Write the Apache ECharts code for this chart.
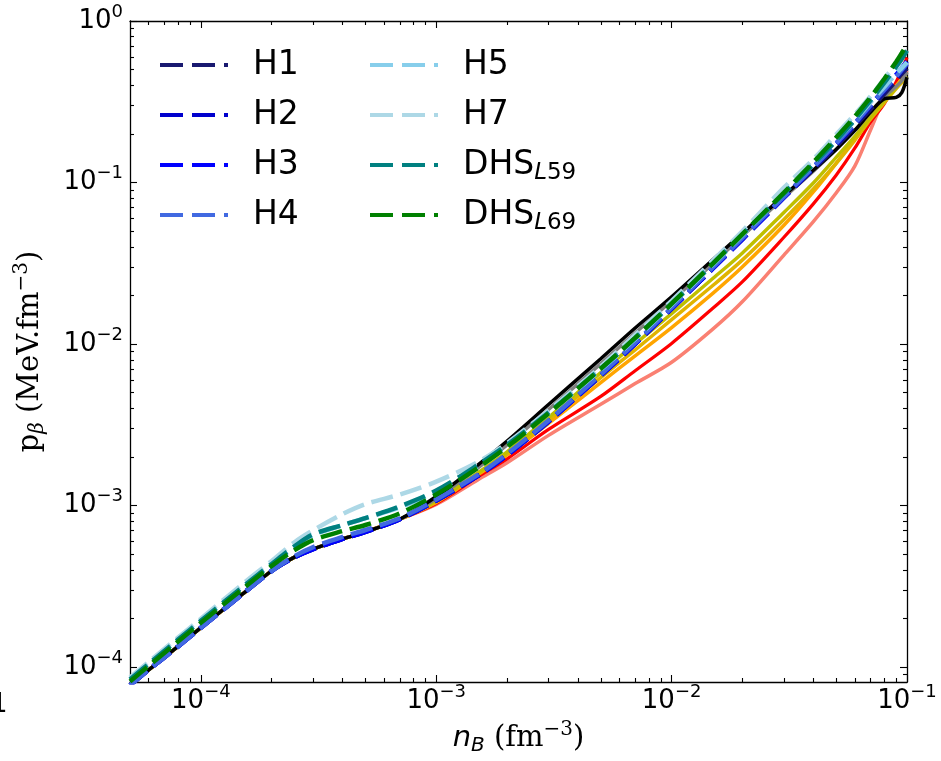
<!DOCTYPE html>
<html><head><meta charset="utf-8">
<script src="https://cdn.jsdelivr.net/npm/echarts@6/dist/echarts.min.js"></script>
<style>html,body{margin:0;padding:0;background:#fff}#c{width:941px;height:761px}</style>
</head><body><div id="c"></div>
<script>
// baryon density grid (fm^-3)
const nB = [5e-5,6e-5,8e-5,1e-4,1.5e-4,2e-4,2.5e-4,3e-4,4e-4,5e-4,7e-4,1e-3,1.5e-3,2e-3,3e-3,5e-3,7e-3,1e-2,1.5e-2,2e-2,3e-2,4e-2,5e-2,6e-2,7e-2,8e-2,9e-2,9.5e-2,0.1];

// dashed models (pressure, MeV fm^-3)
const pH1 = [7.72e-5,9.63e-5,1.344e-4,1.756e-4,2.83e-4,3.95e-4,4.80e-4,5.39e-4,6.22e-4,6.88e-4,8.24e-4,1.077e-3,1.527e-3,2.06e-3,3.32e-3,6.39e-3,1.004e-2,1.657e-2,2.95e-2,4.47e-2,8.08e-2,0.1211,0.1673,0.2226,0.2847,0.3539,0.4277,0.4710,0.510];
const pH2 = [7.72e-5,9.63e-5,1.344e-4,1.756e-4,2.83e-4,3.95e-4,4.80e-4,5.39e-4,6.22e-4,6.88e-4,8.24e-4,1.077e-3,1.527e-3,2.06e-3,3.32e-3,6.39e-3,1.004e-2,1.657e-2,2.95e-2,4.47e-2,8.08e-2,0.1229,0.1722,0.2290,0.2968,0.3693,0.4462,0.4913,0.5392];
const pH3 = [7.72e-5,9.63e-5,1.344e-4,1.756e-4,2.83e-4,3.95e-4,4.80e-4,5.39e-4,6.22e-4,6.88e-4,8.24e-4,1.077e-3,1.527e-3,2.06e-3,3.32e-3,6.39e-3,1.004e-2,1.657e-2,2.95e-2,4.47e-2,8.08e-2,0.1246,0.1747,0.2323,0.3012,0.3798,0.4658,0.5128,0.5629];
const pH4 = [7.72e-5,9.63e-5,1.344e-4,1.756e-4,2.83e-4,3.95e-4,4.87e-4,5.54e-4,6.41e-4,7.07e-4,8.36e-4,1.092e-3,1.549e-3,2.093e-3,3.37e-3,6.48e-3,1.018e-2,1.680e-2,2.99e-2,4.54e-2,8.19e-2,0.1246,0.1747,0.2323,0.3012,0.3745,0.4529,0.4983,0.5471];
const pH5 = [8.41e-5,1.049e-4,1.484e-4,1.939e-4,3.13e-4,4.36e-4,5.53e-4,6.57e-4,7.58e-4,8.38e-4,9.76e-4,1.222e-3,1.760e-3,2.34e-3,3.72e-3,6.95e-3,1.077e-2,1.753e-2,3.12e-2,4.73e-2,8.55e-2,0.1300,0.1821,0.2423,0.3144,0.3907,0.4725,0.5128,0.5550];
const pH7 = [8.64e-5,1.078e-4,1.526e-4,1.993e-4,3.26e-4,4.55e-4,5.94e-4,7.05e-4,8.87e-4,1.022e-3,1.173e-3,1.409e-3,1.860e-3,2.44e-3,3.88e-3,7.25e-3,1.139e-2,1.854e-2,3.30e-2,5.01e-2,9.30e-2,0.1394,0.1983,0.2638,0.3420,0.4375,0.5441,0.5990,0.6581];
const pL59 = [8.41e-5,1.049e-4,1.484e-4,1.939e-4,3.13e-4,4.36e-4,5.61e-4,6.66e-4,7.58e-4,8.38e-4,9.90e-4,1.240e-3,1.784e-3,2.38e-3,3.77e-3,7.05e-3,1.092e-2,1.778e-2,3.16e-2,4.80e-2,8.55e-2,0.1300,0.1821,0.2456,0.3231,0.4134,0.5217,0.5825,0.6581];
const pL69 = [8.17e-5,1.019e-4,1.442e-4,1.884e-4,3.04e-4,4.24e-4,5.30e-4,6.12e-4,6.97e-4,7.59e-4,8.97e-4,1.172e-3,1.710e-3,2.31e-3,3.72e-3,7.05e-3,1.092e-2,1.778e-2,3.16e-2,4.80e-2,8.67e-2,0.1337,0.1901,0.2564,0.3373,0.4375,0.5598,0.6339,0.7161];

// solid (unlabelled) models: common low-density part (n <= 7e-4) + own part (n >= 1e-3)
const pSolidLow = [7.72e-5,9.63e-5,1.344e-4,1.756e-4,2.83e-4,3.95e-4,4.80e-4,5.39e-4,6.22e-4,6.88e-4,8.24e-4];
const pBlackHi  = [1.139e-3,1.784e-3,2.513e-3,4.226e-3,8.12e-3,1.258e-2,1.963e-2,3.343e-2,4.867e-2,8.306e-2,0.1194,0.1604,0.2102,0.2729,0.3294,0.3364,0.3601,0.4490];
const pGrayHi   = [1.108e-3,1.710e-3,2.377e-3,3.936e-3,7.565e-3,1.172e-2,1.854e-2,3.16e-2,4.666e-2,8.080e-2,0.1177,0.1604,0.2102,0.2729,0.3391,0.3930,0.4266,0.4819];
const pYellowHi = [1.077e-3,1.594e-3,2.153e-3,3.515e-3,6.662e-3,1.004e-2,1.543e-2,2.556e-2,3.667e-2,6.529e-2,9.934e-2,0.1431,0.1931,0.2540,0.3203,0.3874,0.4266,0.4554];
const pGoldHi   = [1.062e-3,1.571e-3,2.093e-3,3.370e-3,6.204e-3,9.216e-3,1.417e-2,2.313e-2,3.322e-2,5.913e-2,9.118e-2,0.1315,0.1826,0.2469,0.3115,0.3818,0.4146,0.4425];
const pOrangeHi = [1.047e-3,1.549e-3,2.063e-3,3.229e-3,5.781e-3,8.463e-3,1.266e-2,2.067e-2,3.010e-2,5.436e-2,8.744e-2,0.1315,0.1877,0.2540,0.3203,0.3986,0.4387,0.4819];
const pRedHi    = [1.031e-3,1.505e-3,1.950e-3,2.965e-3,4.745e-3,6.847e-3,1.010e-2,1.672e-2,2.434e-2,4.586e-2,7.380e-2,0.1110,0.1631,0.2368,0.3071,0.4215,0.4982,0.5958];
const pSalmonHi = [1.017e-3,1.443e-3,1.841e-3,2.723e-3,4.237e-3,5.700e-3,7.717e-3,1.242e-2,1.834e-2,3.555e-2,5.722e-2,8.612e-2,0.1264,0.2115,0.3294,0.4042,0.4450,0.4955];

// axis ranges and ticks (decade exponents)
const xMin = 5e-5, xMax = 0.1;
const yMin = 8.1e-5, yMax = 1;
const xMajorExp = [-4,-3,-2,-1];
const yMajorExp = [-4,-3,-2,-1,0];
const mantissas = [2,3,4,5,6,7,8,9];

const legendLeft = ['H1','H2','H3','H4'];
const legendRight = ['H5','H7','DHS_L59','DHS_L69'];

const L = Math.log10;
function minorTicks(lo, hi) {
  const out = [];
  for (let e = Math.floor(L(lo)); e <= Math.ceil(L(hi)); e++) {
    mantissas.forEach(m => { const v = m * Math.pow(10, e); if (v > lo && v < hi) out.push(L(v)); });
  }
  return out;
}
const xMinor = minorTicks(xMin, xMax), yMinor = minorTicks(yMin, yMax);

function toData(arr) { return nB.map((n, i) => [L(n), L(arr[i])]); }

const sansFont = 'DejaVu Sans';
const serifFont = 'DejaVu Serif';
const tickRich = {
  b: { fontSize: 26, lineHeight: 36, fontFamily: sansFont, color: '#000' },
  s: { fontSize: 18, verticalAlign: 'top', fontFamily: sansFont, color: '#000' }
};
function expLabel(v) { const e = Math.round(v); return '{b|10}{s|' + (e < 0 ? '\u2212' : '') + Math.abs(e) + '}'; }

function mkX(pos, major, labels) {
  return {
    type: 'value', position: pos, min: L(xMin), max: L(xMax),
    axisLine: { show: major, onZero: false, lineStyle: { color: '#000', width: 1.3 } },
    axisTick: { show: true, inside: true, length: major ? 7 : 4, customValues: major ? xMajorExp : xMinor, lineStyle: { color: '#000', width: 1.1 } },
    axisLabel: labels ? { show: true, customValues: xMajorExp, formatter: expLabel, rich: tickRich, margin: 1 } : { show: false },
    splitLine: { show: false }
  };
}
function mkY(pos, major, labels) {
  return {
    type: 'value', position: pos, min: L(yMin), max: L(yMax),
    axisLine: { show: major, onZero: false, lineStyle: { color: '#000', width: 1.3 } },
    axisTick: { show: true, inside: true, length: major ? 7 : 4, customValues: major ? yMajorExp : yMinor, lineStyle: { color: '#000', width: 1.1 } },
    axisLabel: labels ? { show: true, customValues: yMajorExp, formatter: expLabel, rich: tickRich, margin: 7 } : { show: false },
    splitLine: { show: false }
  };
}

const xAxes = [mkX('bottom', true, true), mkX('bottom', false, false), mkX('top', true, false), mkX('top', false, false)];
const yAxes = [mkY('left', true, true), mkY('left', false, false), mkY('right', true, false), mkY('right', false, false)];
xAxes[0].name = '{i|n}{ib|B}{r| (fm}{sp|\u22123}{r|)}';
xAxes[0].nameLocation = 'middle';
xAxes[0].nameGap = 38;
xAxes[0].nameTextStyle = { rich: {
  i: { fontSize: 29, fontStyle: 'italic', fontFamily: sansFont, color: '#000', lineHeight: 36 },
  ib: { fontSize: 20, fontStyle: 'italic', fontFamily: sansFont, color: '#000', verticalAlign: 'bottom' },
  r: { fontSize: 29, fontFamily: serifFont, color: '#000', lineHeight: 36 },
  sp: { fontSize: 20, fontFamily: serifFont, color: '#000', verticalAlign: 'top' }
}};
yAxes[0].name = '{r|p}{ib|\u03b2}{r| (MeV.fm}{sp|\u22123}{r|)}';
yAxes[0].nameLocation = 'middle';
yAxes[0].nameGap = 82;
yAxes[0].nameTextStyle = { rich: {
  r: { fontSize: 29, fontFamily: serifFont, color: '#000', lineHeight: 36 },
  ib: { fontSize: 20, fontStyle: 'italic', fontFamily: serifFont, color: '#000', verticalAlign: 'bottom' },
  sp: { fontSize: 20, fontFamily: serifFont, color: '#000', verticalAlign: 'top' }
}};

const solids = [
  ['salmon', pSalmonHi, '#fa8072', 3.5],
  ['red', pRedHi, '#ff0000', 3.2],
  ['orange', pOrangeHi, '#ffa500', 3.5],
  ['gold', pGoldHi, '#e0b400', 3.5],
  ['yellow', pYellowHi, '#bfbf00', 3.5],
  ['gray', pGrayHi, '#808080', 3.5],
  ['black', pBlackHi, '#000000', 3.5]
];
const dashed = [
  ['H1', pH1, '#191970'], ['H2', pH2, '#0000cd'], ['H3', pH3, '#0000ff'], ['H4', pH4, '#4169e1'],
  ['H5', pH5, '#87ceeb'], ['H7', pH7, '#add8e6'], ['DHS_L59', pL59, '#008080'], ['DHS_L69', pL69, '#008000']
];

const series = [];
solids.forEach(([name, hi, color, w]) => {
  series.push({ type: 'line', name: name, data: toData(pSolidLow.concat(hi)), showSymbol: false, symbol: 'none',
    color: color, lineStyle: { color: color, width: w }, smooth: 0.3, z: 2, silent: true });
});
dashed.forEach(([name, arr, color]) => {
  series.push({ type: 'line', name: name, data: toData(arr), showSymbol: false, symbol: 'none',
    color: color, lineStyle: { color: color, width: 4.5, type: [22, 8] }, smooth: 0.3, z: 3, silent: true });
});

const legendIcon = 'path://M0,0H23V4H0Z M32,0H55V4H32Z M64,0H68V4H64Z';
const legendText = {
  fontSize: 33, lineHeight: 40, fontFamily: sansFont, color: '#000', padding: [0, 0, 0, 20],
  rich: {
    m: { fontSize: 33, lineHeight: 40, fontFamily: sansFont, color: '#000' },
    si: { fontSize: 23, fontStyle: 'italic', fontFamily: sansFont, color: '#000', verticalAlign: 'bottom', padding: [8, 0, 0, 0] },
    s: { fontSize: 23, fontFamily: sansFont, color: '#000', verticalAlign: 'bottom', padding: [8, 0, 0, 0] }
  }
};
function legendFmt(name) {
  if (name.indexOf('DHS_') === 0) { const sub = name.slice(4); return '{m|DHS}{si|' + sub[0] + '}{s|' + sub.slice(1) + '}'; }
  return name;
}
function mkLegend(data, left) {
  return { data: data, orient: 'vertical', left: left, top: 45, padding: 0, itemGap: 10,
    itemWidth: 68, itemHeight: 4, icon: legendIcon, selectedMode: false,
    textStyle: legendText, formatter: legendFmt };
}

const chart = echarts.init(document.getElementById('c'), null, { renderer: 'canvas' });
chart.setOption({
  backgroundColor: '#ffffff',
  animation: false,
  grid: { left: 130, right: 34, top: 21, bottom: 75, containLabel: false },
  xAxis: xAxes,
  yAxis: yAxes,
  legend: [mkLegend(legendLeft, 160), mkLegend(legendRight, 370)],
  series: series,
  graphic: [{ type: 'text', left: -9, top: 692, style: { text: '1', fontSize: 26, fontFamily: sansFont, fill: '#000' } }]
});
</script>
</body></html>
